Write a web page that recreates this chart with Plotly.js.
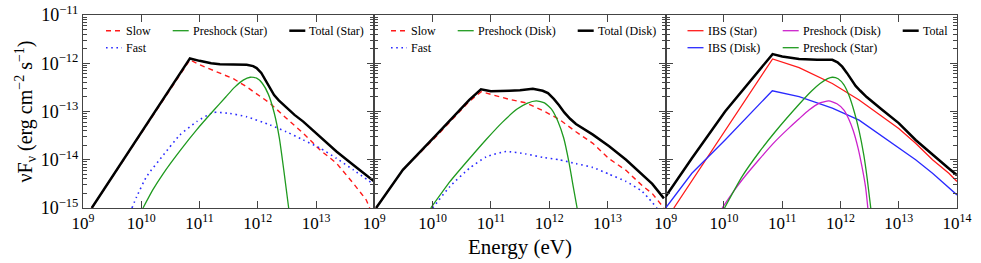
<!DOCTYPE html>
<html><head><meta charset="utf-8">
<script src="https://cdn.plot.ly/plotly-3.0.1.min.js"></script>
<style>html,body{margin:0;padding:0;background:#fff}#chart{width:981px;height:263px}</style>
</head><body><div id="chart"></div>
<script>
// ---- Data: log10(Energy / eV) and log10(nuF_nu / erg cm^-2 s^-1) ----
// Panel 1 (Star)
const p1SlowE = [9.15, 10.835, 11.0, 11.35, 11.58, 11.81, 12.21, 12.49, 12.78, 13.07, 13.35, 13.64, 13.86, 13.92];
const p1SlowF = [-15, -11.93, -12.03, -12.21, -12.32, -12.49, -12.83, -13.14, -13.45, -13.80, -14.07, -14.49, -14.83, -15];
const p1FastE = [9.84, 9.92, 10.09, 10.38, 10.66, 10.95, 11.24, 11.52, 11.81, 12.21, 12.49, 12.78, 13.07, 13.35, 13.64, 14.0];
const p1FastF = [-15, -14.77, -14.35, -13.90, -13.49, -13.21, -13.02, -13.04, -13.11, -13.28, -13.42, -13.59, -13.76, -13.97, -14.21, -14.52];
const p1PreE = [10.03, 10.2, 10.38, 10.66, 10.95, 11.24, 11.45, 11.6, 11.75, 11.87, 11.98, 12.08, 12.18, 12.28, 12.37, 12.45, 12.53];
const p1PreF = [-15, -14.62, -14.28, -13.82, -13.38, -12.98, -12.70, -12.50, -12.35, -12.29, -12.31, -12.42, -12.64, -13.02, -13.55, -14.25, -15];
const p1TotE = [9.15, 10.835, 11.0, 11.2, 11.35, 11.58, 11.81, 11.92, 11.98, 12.06, 12.14, 12.21, 12.28, 12.36, 12.49, 12.63, 12.78, 13.07, 13.35, 13.64, 13.86, 14.0];
const p1TotF = [-15, -11.90, -11.95, -12.00, -12.02, -12.03, -12.03, -12.06, -12.10, -12.20, -12.36, -12.52, -12.66, -12.77, -12.92, -13.07, -13.21, -13.52, -13.83, -14.11, -14.32, -14.45];
// Panel 2 (Disk)
const p2SlowE = [9.03, 9.49, 10.06, 10.63, 10.835, 11.03, 11.32, 11.60, 11.89, 12.17, 12.46, 12.75, 13.03, 13.32, 13.60, 13.77, 13.97];
const p2SlowF = [-15, -14.21, -13.52, -12.79, -12.59, -12.66, -12.75, -12.82, -12.98, -13.16, -13.42, -13.66, -13.98, -14.22, -14.54, -14.70, -15];
const p2FastE = [10.0, 10.3, 10.63, 10.92, 11.26, 11.6, 11.89, 12.17, 12.46, 12.75, 13.03, 13.32, 13.60, 13.85];
const p2FastF = [-15, -14.55, -14.18, -13.94, -13.83, -13.88, -13.95, -14.00, -14.08, -14.16, -14.30, -14.45, -14.66, -15];
const p2PreE = [9.97, 10.3, 10.63, 10.92, 11.2, 11.45, 11.62, 11.78, 11.92, 12.04, 12.15, 12.25, 12.34, 12.42, 12.48];
const p2PreF = [-15, -14.45, -13.98, -13.58, -13.22, -12.95, -12.83, -12.78, -12.82, -12.95, -13.20, -13.55, -14.05, -14.60, -15];
const p2TotE = [9.03, 9.49, 10.06, 10.63, 10.83, 11.0, 11.32, 11.5, 11.72, 11.89, 11.98, 12.08, 12.17, 12.26, 12.36, 12.46, 12.75, 13.03, 13.32, 13.60, 13.77, 13.97];
const p2TotF = [-15, -14.21, -13.49, -12.76, -12.54, -12.58, -12.57, -12.56, -12.53, -12.57, -12.62, -12.74, -12.87, -13.02, -13.15, -13.26, -13.48, -13.72, -14.00, -14.32, -14.50, -14.80];
// Panel 3 (Combined)
const p3IbsStarE = [9.14, 10.835, 11.29, 11.86, 12.32, 12.72, 13.0, 13.29, 13.58, 13.86, 14.0];
const p3IbsStarF = [-15, -11.91, -12.09, -12.42, -12.76, -13.11, -13.35, -13.66, -14.0, -14.28, -14.45];
const p3IbsDiskE = [9.0, 9.45, 10.02, 10.60, 10.83, 11.29, 11.86, 12.32, 12.72, 13.0, 13.29, 13.58, 14.0];
const p3IbsDiskF = [-15, -14.28, -13.59, -12.87, -12.57, -12.69, -12.93, -13.18, -13.52, -13.76, -14.0, -14.28, -14.73];
const p3PreDiskE = [9.97, 10.15, 10.31, 10.6, 10.88, 11.1, 11.29, 11.46, 11.63, 11.80, 11.94, 12.06, 12.14, 12.22, 12.30, 12.37, 12.43, 12.47];
const p3PreDiskF = [-15, -14.68, -14.42, -14.0, -13.62, -13.36, -13.15, -12.97, -12.83, -12.78, -12.84, -12.97, -13.15, -13.40, -13.75, -14.15, -14.56, -15];
const p3PreStarE = [10.01, 10.31, 10.6, 10.88, 11.29, 11.5, 11.65, 11.78, 11.86, 11.96, 12.06, 12.15, 12.24, 12.32, 12.40, 12.46, 12.52];
const p3PreStarF = [-15, -14.35, -13.85, -13.42, -12.85, -12.58, -12.42, -12.32, -12.29, -12.32, -12.45, -12.68, -13.02, -13.40, -13.90, -14.40, -15];
const p3TotE = [9.0, 9.45, 10.02, 10.60, 10.835, 11.0, 11.29, 11.60, 11.86, 11.95, 12.03, 12.11, 12.18, 12.26, 12.34, 12.45, 12.72, 13.0, 13.29, 13.58, 13.86, 14.0];
const p3TotF = [-14.76, -13.97, -13.0, -12.14, -11.81, -11.86, -11.91, -11.93, -11.93, -11.98, -12.07, -12.20, -12.33, -12.47, -12.57, -12.70, -12.97, -13.24, -13.59, -13.90, -14.18, -14.32];

// Labels
const p1Names = ['Slow', 'Fast', 'Preshock (Star)', 'Total (Star)'];
const p2Names = ['Slow', 'Fast', 'Preshock (Disk)', 'Total (Disk)'];
const p3Names = ['IBS (Star)', 'IBS (Disk)', 'Preshock (Disk)', 'Preshock (Star)', 'Total'];
const xTickExp12 = [9, 10, 11, 12, 13];
const xTickExp3 = [9, 10, 11, 12, 13, 14];
const yTickExp = [-15, -14, -13, -12, -11];
const xTitle = 'Energy (eV)';
const yTitle = 'νF<sub>ν</sub> (erg cm<sup>−2</sup> s<sup>−1</sup>)';

// ---- Build ----
const FONT = 'Liberation Serif, Times New Roman, serif';
const pw = v => v.map(e => Math.pow(10, e));
const supLabel = v => v.map(e => '10<sup>' + String(e).replace('-', '−') + '</sup>');
const RED = '#ff1a1a', GREEN = '#1f9a1f', BLUE = '#2a2aff', MAG = '#cc22cc', BLK = '#000000';
const DASH = '5px,4px', DOT = '1.6px,3.6px';

const L = 83, R = 24, T = 15, B = 55, W = 981, H = 263;
const PW = W - L - R, PH = H - T - B;
const ROW1 = 30.7, ROW2 = 47.7;

const traces = [];
const shapes = [];
const annotations = [];
// each series: data, name, axes, style, legend-entry position (text left x, row y) in px
function add(E, F, name, xa, ya, color, width, dash, shape, textX, rowY) {
  traces.push({x: pw(E), y: pw(F), name: name, xaxis: xa, yaxis: ya, type: 'scatter', mode: 'lines',
    line: {color: color, width: width, dash: dash, shape: shape, smoothing: 0.5},
    showlegend: false, hoverinfo: 'skip'});
  const yp = (H - B - rowY) / PH;
  shapes.push({type: 'line', xref: 'paper', yref: 'paper',
    x0: (textX - 19 - L) / PW, x1: (textX - 3 - L) / PW, y0: yp, y1: yp,
    line: {color: color, width: width, dash: dash}});
  annotations.push({xref: 'paper', yref: 'paper', x: (textX - 1 - L) / PW, y: yp, xanchor: 'left', yanchor: 'middle',
    text: name, showarrow: false, font: {family: FONT, size: 12, color: '#000'}});
}
add(p1SlowE, p1SlowF, p1Names[0], 'x', 'y', RED, 1.4, DASH, 'linear', 125, ROW1);
add(p1FastE, p1FastF, p1Names[1], 'x', 'y', BLUE, 1.6, DOT, 'spline', 125, ROW2);
add(p1PreE, p1PreF, p1Names[2], 'x', 'y', GREEN, 1.3, 'solid', 'spline', 191.7, ROW1);
add(p1TotE, p1TotF, p1Names[3], 'x', 'y', BLK, 2.5, 'solid', 'linear', 308.3, ROW1);
add(p2SlowE, p2SlowF, p2Names[0], 'x2', 'y2', RED, 1.4, DASH, 'linear', 410, ROW1);
add(p2FastE, p2FastF, p2Names[1], 'x2', 'y2', BLUE, 1.6, DOT, 'spline', 410, ROW2);
add(p2PreE, p2PreF, p2Names[2], 'x2', 'y2', GREEN, 1.3, 'solid', 'spline', 476.7, ROW1);
add(p2TotE, p2TotF, p2Names[3], 'x2', 'y2', BLK, 2.5, 'solid', 'linear', 596.7, ROW1);
add(p3IbsStarE, p3IbsStarF, p3Names[0], 'x3', 'y3', RED, 1.3, 'solid', 'linear', 706.5, ROW1);
add(p3IbsDiskE, p3IbsDiskF, p3Names[1], 'x3', 'y3', BLUE, 1.3, 'solid', 'linear', 706.5, ROW2);
add(p3PreDiskE, p3PreDiskF, p3Names[2], 'x3', 'y3', MAG, 1.3, 'solid', 'spline', 801.7, ROW1);
add(p3PreStarE, p3PreStarF, p3Names[3], 'x3', 'y3', GREEN, 1.3, 'solid', 'spline', 801.7, ROW2);
add(p3TotE, p3TotF, p3Names[4], 'x3', 'y3', BLK, 2.5, 'solid', 'linear', 921.7, ROW1);

const LINE = '#444';
function xax(domain, exps, anchor, title) {
  const a = {domain: domain, anchor: anchor, type: 'log', range: [9, 14], tickmode: 'array',
    tickvals: pw(exps), ticktext: supLabel(exps),
    ticks: 'inside', ticklen: 7, tickwidth: 1, tickcolor: LINE,
    showline: true, linecolor: LINE, linewidth: 1, mirror: 'ticks', showgrid: false, zeroline: false,
    tickfont: {family: FONT, size: 17, color: '#000'}, fixedrange: true};
  if (title) a.title = {text: title, font: {family: FONT, size: 21, color: '#000'}, standoff: 6};
  return a;
}
function yax(anchor, labels) {
  const a = {anchor: anchor, type: 'log', range: [-15, -11], tickmode: 'array',
    tickvals: pw(yTickExp), ticktext: supLabel(yTickExp),
    ticks: 'inside', ticklen: 7, tickwidth: 1, tickcolor: LINE,
    minor: {ticks: 'inside', ticklen: 4, tickcolor: LINE, dtick: 'D1', showgrid: false},
    showline: true, linecolor: LINE, linewidth: 1, mirror: 'ticks', showgrid: false, zeroline: false,
    showticklabels: labels, tickfont: {family: FONT, size: 18, color: '#000'}, fixedrange: true};
  if (labels) a.title = {text: yTitle, font: {family: FONT, size: 20, color: '#000'}, standoff: 2};
  return a;
}

const layout = {
  width: W, height: H, margin: {l: L, r: R, t: T, b: B}, paper_bgcolor: '#fff', plot_bgcolor: '#fff',
  font: {family: FONT, color: '#000'}, showlegend: false,
  xaxis: xax([0, 1/3], xTickExp12, 'y'),
  xaxis2: xax([1/3, 2/3], xTickExp12, 'y2', xTitle),
  xaxis3: xax([2/3, 1], xTickExp3, 'y3'),
  yaxis: yax('x', true), yaxis2: yax('x2', false), yaxis3: yax('x3', false),
  shapes: shapes, annotations: annotations
};
Plotly.newPlot('chart', traces, layout, {staticPlot: true, displayModeBar: false});
</script></body></html>
